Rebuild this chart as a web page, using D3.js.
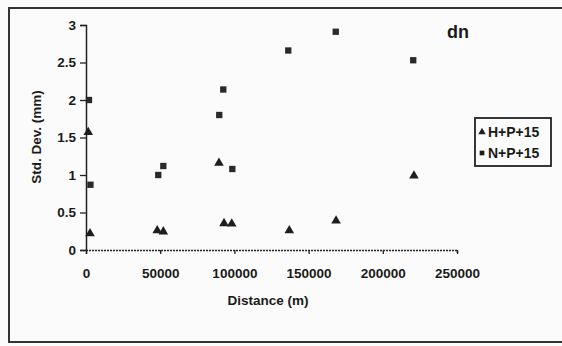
<!DOCTYPE html>
<html>
<head>
<meta charset="utf-8">
<script src="https://cdn.jsdelivr.net/npm/d3@7"></script>
<style>
  body { margin: 0; background: #fbfbfb; }
  text { font-family: "Liberation Sans", Arial, sans-serif; fill: #1a1a1a; }
</style>
</head>
<body>
<div id="chart"></div>
<script>
// H+P+15 (triangles)
const hpDist = [1500, 2700, 48000, 52100, 89600, 93000, 98200, 137000, 168500, 221000];
const hpStd = [1.57, 0.22, 0.26, 0.245, 1.16, 0.355, 0.35, 0.26, 0.39, 0.99];
// N+P+15 (squares)
const npDist = [2000, 3000, 48700, 52100, 89800, 92500, 98600, 136300, 168300, 220500];
const npStd = [2.0, 0.87, 1.0, 1.12, 1.8, 2.14, 1.08, 2.66, 2.91, 2.53];

const xTicks = [0, 50000, 100000, 150000, 200000, 250000];
const yTicks = [0, 0.5, 1, 1.5, 2, 2.5, 3];
const seriesNames = ["H+P+15", "N+P+15"];

const W = 562, H = 346;
const svg = d3.select("#chart").append("svg")
    .attr("width", W).attr("height", H);

// outer frame (scan shows top, left, bottom)
svg.append("path")
    .attr("d", "M562,8 L9,8 L9,342 L562,342")
    .attr("fill", "none").attr("stroke", "#333").attr("stroke-width", 2);

let x = d3.scaleLinear().domain([0, 250000]).range([86, 457]);
let y = d3.scaleLinear().domain([0, 3]).range([250, 25]);

// Y axis
let gy = svg.append("g")
    .attr("transform", "translate(86,0)")
    .call(d3.axisLeft(y).tickValues(yTicks).tickSize(6).tickPadding(4)
        .tickFormat(d => d));
gy.select(".domain").attr("stroke", "#222").attr("stroke-width", 1.5);
gy.selectAll(".tick line").attr("stroke", "#222").attr("stroke-width", 1.3);
gy.selectAll("text").style("font-size", "13.5px").style("font-weight", "bold")
    .attr("fill", "#1a1a1a").attr("font-family", "Liberation Sans, Arial");

// X axis
let gx = svg.append("g")
    .attr("transform", "translate(0,250)")
    .call(d3.axisBottom(x).tickValues(xTicks).tickSize(4).tickPadding(14)
        .tickFormat(d => d));
gx.select(".domain").attr("stroke", "#222").attr("stroke-width", 1.5)
    .attr("stroke-dasharray", "2,1");
gx.selectAll(".tick line").attr("stroke", "#222").attr("stroke-width", 1.3);
gx.selectAll("text").style("font-size", "13.5px").style("font-weight", "bold")
    .attr("fill", "#1a1a1a").attr("font-family", "Liberation Sans, Arial");

// axis titles
svg.append("text")
    .attr("x", 268).attr("y", 305)
    .attr("text-anchor", "middle")
    .style("font-size", "13.5px").style("font-weight", "bold")
    .text("Distance (m)");

svg.append("text")
    .attr("transform", "translate(41,137) rotate(-90)")
    .attr("text-anchor", "middle")
    .style("font-size", "13.5px").style("font-weight", "bold")
    .text("Std. Dev. (mm)");

// title
svg.append("text")
    .attr("x", 458).attr("y", 38)
    .attr("text-anchor", "middle")
    .style("font-size", "18px").style("font-weight", "bold")
    .text("dn");

const tri = d3.symbol().type(d3.symbolTriangle).size(40);
const sq = d3.symbol().type(d3.symbolSquare).size(40);

svg.append("g").selectAll("path")
    .data(hpDist.map((d, i) => [d, hpStd[i]]))
    .enter().append("path")
    .attr("d", tri)
    .attr("transform", d => "translate(" + x(d[0]) + "," + y(d[1]) + ")")
    .attr("fill", "#1e1e1e");

svg.append("g").selectAll("path")
    .data(npDist.map((d, i) => [d, npStd[i]]))
    .enter().append("path")
    .attr("d", sq)
    .attr("transform", d => "translate(" + x(d[0]) + "," + y(d[1]) + ")")
    .attr("fill", "#2a2a2a");

// legend
let lg = svg.append("g").attr("transform", "translate(475,118)");
lg.append("rect")
    .attr("width", 76).attr("height", 48)
    .attr("fill", "#fbfbfb").attr("stroke", "#222").attr("stroke-width", 1.8);
seriesNames.forEach((name, i) => {
    let cy = 14 + i * 21;
    lg.append("path")
        .attr("d", i === 0 ? d3.symbol().type(d3.symbolTriangle).size(24)
                           : d3.symbol().type(d3.symbolSquare).size(22))
        .attr("transform", "translate(7," + cy + ")")
        .attr("fill", "#1e1e1e");
    lg.append("text")
        .attr("x", 13).attr("y", cy + 5)
        .style("font-size", "14px").style("font-weight", "bold")
        .text(name);
});
</script>
</body>
</html>
